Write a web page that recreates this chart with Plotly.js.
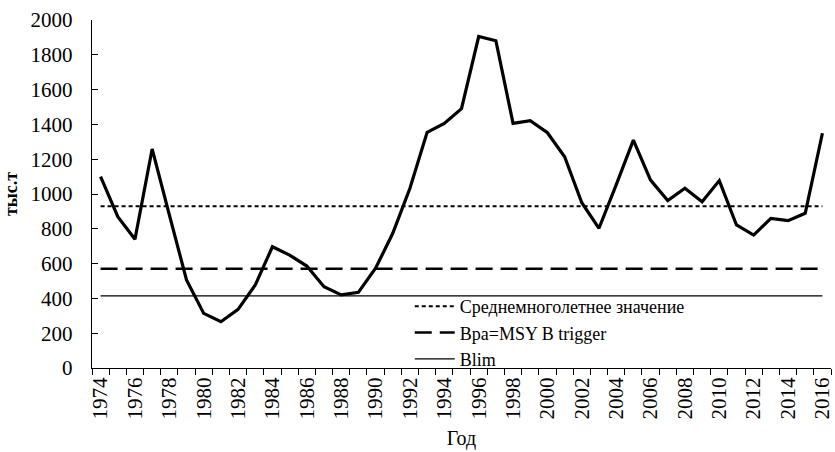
<!DOCTYPE html>
<html>
<head>
<meta charset="utf-8">
<script src="https://cdn.plot.ly/plotly-3.0.1.min.js"></script>
<style>html,body{margin:0;padding:0;background:#fff;}#chart{width:835px;height:452px;}</style>
</head>
<body>
<div id="chart"></div>
<script>
const years = [1974,1975,1976,1977,1978,1979,1980,1981,1982,1983,1984,1985,1986,1987,1988,1989,1990,1991,1992,1993,1994,1995,1996,1997,1998,1999,2000,2001,2002,2003,2004,2005,2006,2007,2008,2009,2010,2011,2012,2013,2014,2015,2016];
const biomass = [1100,870,740,1259,880,506,314,266,337,477,697,649,586,467,420,435,573,774,1033,1354,1406,1490,1905,1881,1406,1421,1352,1214,950,803,1052,1310,1080,962,1033,956,1077,822,764,860,847,889,1349];
const meanValue = 930;
const bpaValue = 571;
const blimValue = 414;
const tickYears = [1974,1976,1978,1980,1982,1984,1986,1988,1990,1992,1994,1996,1998,2000,2002,2004,2006,2008,2010,2012,2014,2016];
const legendNames = ["Среднемноголетнее значение", "Bpa=MSY B trigger", "Blim"];

const font = "Liberation Serif";
const traces = [
  {x: years, y: biomass, type: 'scatter', mode: 'lines', line: {color: '#000', width: 3.2}, showlegend: false},
  {x: years, y: years.map(() => meanValue), type: 'scatter', mode: 'lines', name: legendNames[0], line: {color: '#000', width: 2, dash: '4px,3px'}},
  {x: years, y: years.map(() => bpaValue), type: 'scatter', mode: 'lines', name: legendNames[1], line: {color: '#000', width: 2.5, dash: '17px,8px'}},
  {x: years, y: years.map(() => blimValue), type: 'scatter', mode: 'lines', name: legendNames[2], line: {color: '#000', width: 1.2}}
];
const layout = {
  width: 835, height: 452,
  margin: {l: 92, r: 4, t: 20, b: 84},
  paper_bgcolor: '#fff', plot_bgcolor: '#fff',
  font: {family: font, color: '#000'},
  xaxis: {
    range: [1973.5, 2016.5], showgrid: false, zeroline: false,
    showline: true, linecolor: '#000', linewidth: 1.2,
    tickmode: 'array', tickvals: tickYears, ticktext: tickYears.map(String),
    ticks: '', tickangle: -90, tickfont: {size: 21, family: font},
    ticklabeloverflow: 'allow',
    minor: {tick0: 1973.5, dtick: 1, ticks: 'outside', ticklen: 6, tickcolor: '#000', tickwidth: 1, showgrid: false},
    title: {text: 'Год', font: {size: 20, family: font}, standoff: 12},
    fixedrange: true
  },
  yaxis: {
    range: [0, 2000], dtick: 200, showgrid: false, zeroline: false,
    showline: true, linecolor: '#000', linewidth: 1.2,
    ticks: 'inside', ticklen: 6, tickcolor: '#000', tickwidth: 1,
    tickfont: {size: 21, family: font}, ticklabelstandoff: 14,
    title: {text: '<b>тыс.т</b>', font: {size: 18, family: font}, standoff: 8},
    fixedrange: true
  },
  legend: {
    x: 0.43, y: 0.23, xanchor: 'left', yanchor: 'top',
    bgcolor: 'rgba(255,255,255,0)', font: {size: 18, family: font},
    itemwidth: 40, tracegroupgap: 0
  },
  showlegend: true
};
Plotly.newPlot('chart', traces, layout, {displayModeBar: false, staticPlot: true});
</script>
</body>
</html>
